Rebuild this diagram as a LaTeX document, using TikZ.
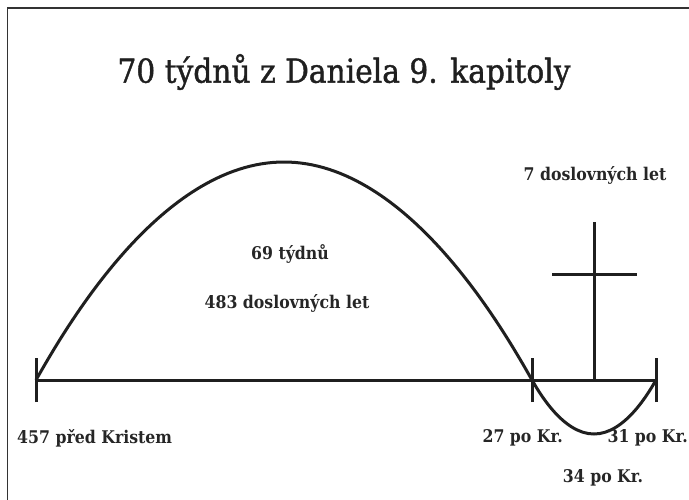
\documentclass[tikz,border=0pt]{standalone}
\usepackage{fontspec}
\setmainfont{DejaVu Serif Condensed}
\newfontfamily\ttlfont[FakeBold=1.2]{DejaVu Serif Condensed}
\begin{document}
\begin{tikzpicture}[x=1pt,y=-1pt,
  thick line/.style={line width=3pt,draw=black!88},
  lbl/.style={font=\fontsize{17.5}{20}\selectfont\bfseries,text=black!85,inner sep=0pt},
  ttl/.style={font=\ttlfont\fontsize{33}{38}\selectfont,text=black!88,inner sep=0pt}]
\useasboundingbox (0,0) rectangle (689,499);
\draw[line width=1.2pt,draw=black!80] (7.5,510) -- (7.5,8) -- (700,8);
% points
\coordinate (A) at (36,380);
\coordinate (B) at (532,380);
\coordinate (C) at (656,380);
\coordinate (X) at (594,380);
\coordinate (Xt) at (594,222);
\coordinate (Hl) at (552,274);
\coordinate (Hr) at (637,274);
% main line and ticks
\draw[thick line] (A) -- (C);
\foreach \p in {A,B,C} \draw[thick line] ([yshift=-22pt]\p) -- ([yshift=22pt]\p);
% arcs
\draw[thick line] (A) parabola bend (284,162) (B);
\draw[thick line] (B) parabola bend (594,434) (C);
% cross
\draw[thick line] (X) -- (Xt);
\draw[thick line] (Hl) -- (Hr);
% texts
\node[ttl] (title) at (344,72) {70 týdnů z Daniela 9. kapitoly};
\node[lbl] (l7) at (595,175) {7 doslovných let};
\node[lbl] (l69) at (290,254) {69 týdnů};
\node[lbl] (l483) at (287,303) {483 doslovných let};
\node[lbl,anchor=west] (l457) at (17,438) {457 před Kristem};
\node[lbl,anchor=east] (l27) at (563,438) {27 po Kr.};
\node[lbl,anchor=east] (l31) at (688,438) {31 po Kr.};
\node[lbl] (l34) at (603,478) {34 po Kr.};
\end{tikzpicture}
\end{document}
